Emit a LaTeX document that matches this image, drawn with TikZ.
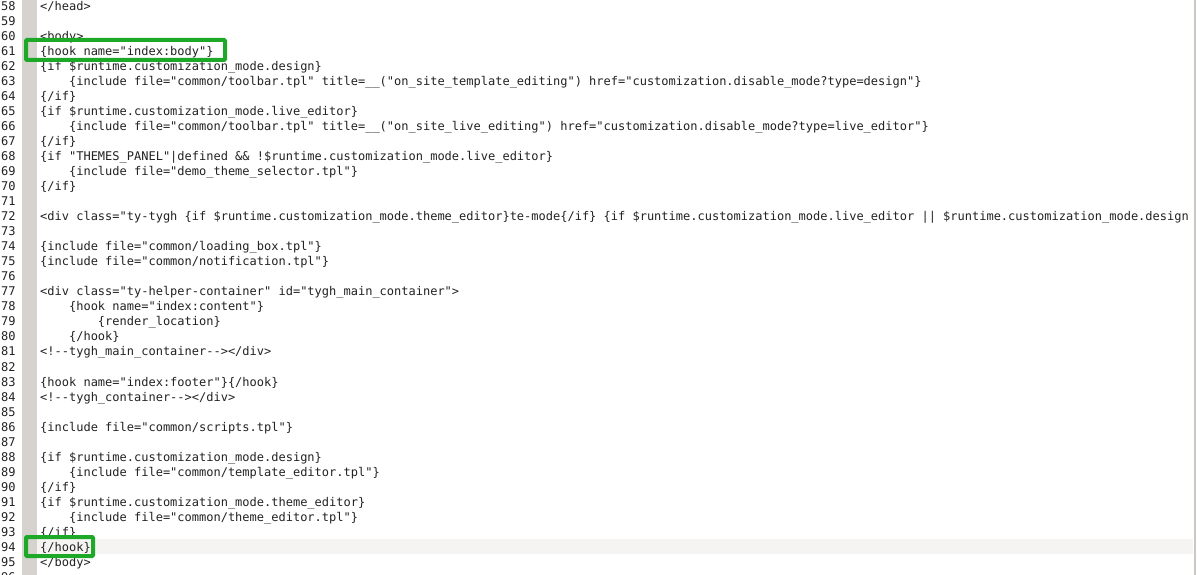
\documentclass[tikz,border=0pt]{standalone}
\usepackage{fontspec}
\newfontfamily\codefont{DejaVu Sans Mono}
\definecolor{codetext}{RGB}{34,34,34}
\definecolor{guttergrey}{RGB}{214,211,206}
\definecolor{curline}{RGB}{245,244,242}
\definecolor{boxgreen}{RGB}{30,168,40}
\definecolor{edgeline}{RGB}{205,198,194}
\tikzset{
  numtext/.style={anchor=base east, inner sep=0pt, font=\codefont\fontsize{12}{12}\selectfont, text=codetext},
  codetxt/.style={anchor=base west, inner sep=0pt, font=\codefont\fontsize{12}{12}\selectfont, text=codetext},
  hlbox/.style={draw=boxgreen, line width=4pt, rounded corners=1pt}
}
\newcommand\myline[3]{%
  \node[numtext] (n#1) at (15.8, {10.3+(#1-58)*15.03}) {#1};
  \node[codetxt] (c#1) at ({40+#2*7.224}, {10.3+(#1-58)*15.03}) {\strut #3};
}
\newcommand\mynum[1]{%
  \node[numtext] (n#1) at (15.8, {10.3+(#1-58)*15.03}) {#1};
}
\begin{document}
\begin{tikzpicture}[x=1pt,y=-1pt]
\useasboundingbox (0,0) rectangle (1197,575);
\begin{scope}
\clip (0,0) rectangle (1197,575);
\fill[white] (0,0) rectangle (1197,575);
\fill[guttergrey] (22,0) rectangle (37,575);
\fill[curline] (37,539) rectangle (1193,554);
\draw[edgeline, line width=2pt] (1195,0) -- (1195,575);
\myline{58}{0}{</head>}
\mynum{59}
\myline{60}{0}{<body>}
\myline{61}{0}{\{hook name="index:body"\}}
\myline{62}{0}{\{if \$runtime.customization\_mode.design\}}
\myline{63}{4}{\{include file="common/toolbar.tpl" title=\_\_("on\_site\_template\_editing") href="customization.disable\_mode?type=design"\}}
\myline{64}{0}{\{/if\}}
\myline{65}{0}{\{if \$runtime.customization\_mode.live\_editor\}}
\myline{66}{4}{\{include file="common/toolbar.tpl" title=\_\_("on\_site\_live\_editing") href="customization.disable\_mode?type=live\_editor"\}}
\myline{67}{0}{\{/if\}}
\myline{68}{0}{\{if "THEMES\_PANEL"|defined \&\& !\$runtime.customization\_mode.live\_editor\}}
\myline{69}{4}{\{include file="demo\_theme\_selector.tpl"\}}
\myline{70}{0}{\{/if\}}
\mynum{71}
\myline{72}{0}{<div class="ty-tygh \{if \$runtime.customization\_mode.theme\_editor\}te-mode\{/if\} \{if \$runtime.customization\_mode.live\_editor || \$runtime.customization\_mode.design}
\mynum{73}
\myline{74}{0}{\{include file="common/loading\_box.tpl"\}}
\myline{75}{0}{\{include file="common/notification.tpl"\}}
\mynum{76}
\myline{77}{0}{<div class="ty-helper-container" id="tygh\_main\_container">}
\myline{78}{4}{\{hook name="index:content"\}}
\myline{79}{8}{\{render\_location\}}
\myline{80}{4}{\{/hook\}}
\myline{81}{0}{<!-{}-tygh\_main\_container-{}-></div>}
\mynum{82}
\myline{83}{0}{\{hook name="index:footer"\}\{/hook\}}
\myline{84}{0}{<!-{}-tygh\_container-{}-></div>}
\mynum{85}
\myline{86}{0}{\{include file="common/scripts.tpl"\}}
\mynum{87}
\myline{88}{0}{\{if \$runtime.customization\_mode.design\}}
\myline{89}{4}{\{include file="common/template\_editor.tpl"\}}
\myline{90}{0}{\{/if\}}
\myline{91}{0}{\{if \$runtime.customization\_mode.theme\_editor\}}
\myline{92}{4}{\{include file="common/theme\_editor.tpl"\}}
\myline{93}{0}{\{/if\}}
\myline{94}{0}{\{/hook\}}
\myline{95}{0}{</body>}
\mynum{96}
\end{scope}
\draw[hlbox] (26,40) rectangle (225,60);
\draw[hlbox] (26,537) rectangle (93,556);
\end{tikzpicture}
\end{document}
